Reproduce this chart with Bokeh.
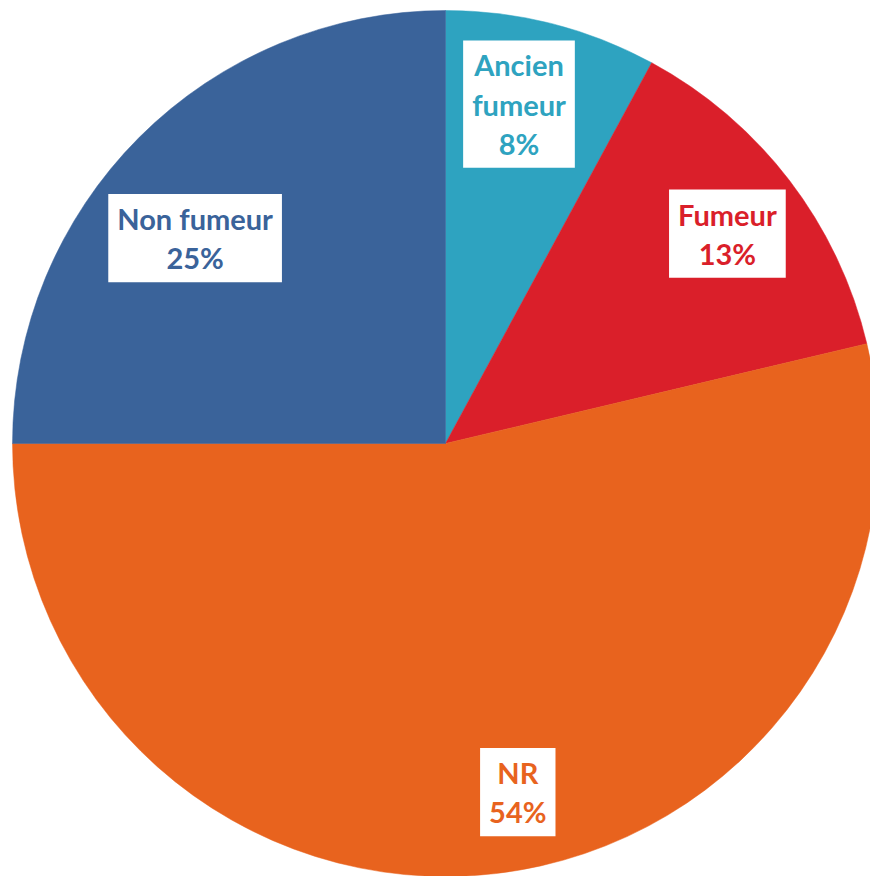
import math
from bokeh.plotting import figure
from bokeh.models import Range1d, Label, ColumnDataSource
from bokeh.embed import file_html
from bokeh.resources import INLINE

# ---- data ----
categories = ["Ancien fumeur", "Fumeur", "NR", "Non fumeur"]
shares = [7.9, 13.4, 53.7, 25.0]
colors = ["#2EA3C0", "#DA1F2A", "#E8631E", "#3A639A"]
label_lines = ["Ancien\nfumeur", "Fumeur", "NR", "Non fumeur"]

# ---- layout ----
W, H = 870, 876
R = 433
OX, OY = 445, 443  # pie centre in figure pixels (from top-left)
label_radius = [348, 350, 356, 323]
label_nudge = [(-12, 2), (4, -3), (31, 5), (-22, -23)]  # px (dx, dy-up)

total = sum(shares)
starts, ends, mids = [], [], []
acc = 0.0
for s in shares:
    a0 = math.pi / 2 - 2 * math.pi * acc / total
    acc += s
    a1 = math.pi / 2 - 2 * math.pi * acc / total
    starts.append(a1)
    ends.append(a0)
    mids.append((a0 + a1) / 2)

p = figure(width=W, height=H, output_backend="svg", toolbar_location=None,
           x_range=Range1d(-OX, W - OX), y_range=Range1d(-(H - OY), OY),
           min_border=0, outline_line_color=None)
p.axis.visible = False
p.grid.visible = False
p.background_fill_color = "white"
p.border_fill_color = "white"

src = ColumnDataSource(dict(start=starts, end=ends, color=colors, name=categories))
p.wedge(x=0, y=0, radius=R, start_angle="start", end_angle="end",
        fill_color="color", line_color="color", line_width=0.5, source=src)

for i, cat in enumerate(categories):
    pct = f"{round(shares[i])}%"
    txt = label_lines[i] + "\n" + pct
    lx = label_radius[i] * math.cos(mids[i]) + label_nudge[i][0]
    ly = label_radius[i] * math.sin(mids[i]) + label_nudge[i][1]
    lab = Label(x=lx, y=ly, text=txt, anchor="center", text_align="center",
                text_baseline="middle", text_font="Lato", text_font_style="bold",
                text_font_size="29px", text_color=colors[i], text_line_height=1.12,
                background_fill_color="white", background_fill_alpha=1.0,
                padding=dict(left=9, right=9, top=7, bottom=7))
    p.add_layout(lab)

open("out.html", "w").write(file_html(p, INLINE))
